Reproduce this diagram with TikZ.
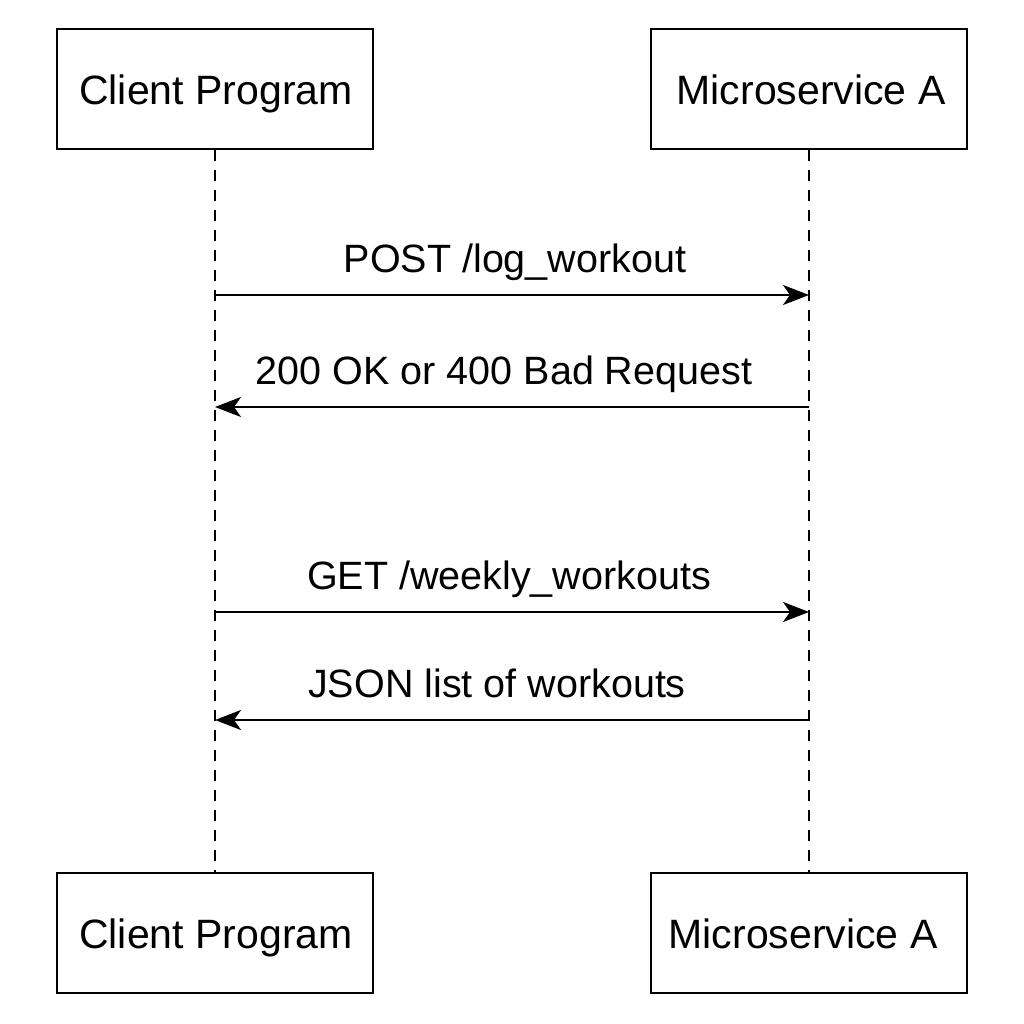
\documentclass[tikz,border=0pt]{standalone}
\usepackage{fontspec}
\setmainfont{Liberation Sans}
\usetikzlibrary{arrows.meta}
\begin{document}
\begin{tikzpicture}[x=1pt,y=-1pt,
  actor/.style={draw,line width=2.2pt,minimum width=316pt,minimum height=120pt,inner sep=0pt},
  atxt/.style={font=\fontsize{41}{48}\selectfont,inner sep=0pt,anchor=base},
  lifeline/.style={line width=2pt,dash pattern=on 11pt off 9pt},
  msg/.style={line width=2.2pt,-{Stealth[length=26pt,width=20pt,inset=7pt]}},
  lbl/.style={font=\fontsize{39.5}{46}\selectfont,inner sep=0pt,anchor=base}]
\useasboundingbox[fill=white] (0,0) rectangle (1024,1024);
\node[actor] (ct) at (215,89) {};
\node[actor] (mt) at (809,89) {};
\node[actor] (cb) at (215,933) {};
\node[actor] (mb) at (809,933) {};
\node[atxt] (tct) at (216,105) {Client Program};
\node[atxt] (tmt) at (811,105) {Microservice A};
\node[atxt] (tcb) at (216,948) {Client Program};
\node[atxt] (tmb) at (803,948) {Microservice A};
\draw[lifeline] (ct.south) -- (cb.north);
\draw[lifeline] (mt.south) -- (mb.north);
\coordinate (c1) at (215,295); \coordinate (m1) at (809,295);
\coordinate (c2) at (215,407); \coordinate (m2) at (809,407);
\coordinate (c3) at (215,612); \coordinate (m3) at (809,612);
\coordinate (c4) at (215,720); \coordinate (m4) at (809,720);
\draw[msg] (c1) -- (m1);
\draw[msg] (m2) -- (c2);
\draw[msg] (c3) -- (m3);
\draw[msg] (m4) -- (c4);
\node[lbl] (l1) at (515,272) {POST /log\_workout};
\node[lbl] (l2) at (504,384) {200 OK or 400 Bad Request};
\node[lbl] (l3) at (509,589) {GET /weekly\_workouts};
\node[lbl] (l4) at (497,697) {JSON list of workouts};
\end{tikzpicture}
\end{document}
